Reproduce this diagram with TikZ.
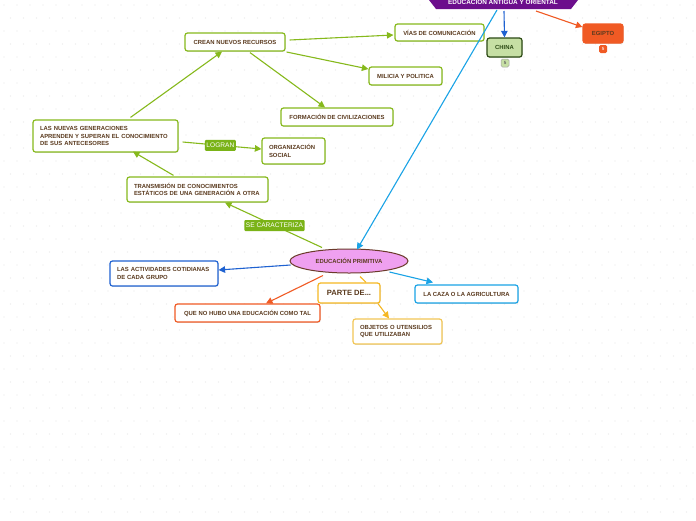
\documentclass[tikz,border=0pt]{standalone}
\usepackage{fontspec}
\setmainfont{Liberation Sans}
\usetikzlibrary{arrows.meta,shapes.geometric,shadows,calc}
\definecolor{gline}{HTML}{86B91C}
\definecolor{gfill}{HTML}{7AB317}
\definecolor{txt}{HTML}{5A3A1E}
\definecolor{bblue}{HTML}{1F62D1}
\definecolor{lblue}{HTML}{1AA3E6}
\definecolor{ored}{HTML}{F05A24}
\definecolor{yel}{HTML}{F5B722}
\definecolor{yel2}{HTML}{F2C655}
\definecolor{purp}{HTML}{6C0E8C}
\definecolor{violet2}{HTML}{EFA0F0}
\definecolor{brownb}{HTML}{6B3A2A}
\definecolor{chinaf}{HTML}{C6DFA4}
\definecolor{chinab}{HTML}{2C4A14}
\tikzset{
  every node/.style={font=\fontsize{5.9}{7.2}\selectfont\bfseries, text=txt},
  box/.style={draw=gline, line width=1.2pt, rounded corners=2.5pt, fill=white, inner sep=0pt, align=left,
     drop shadow={shadow xshift=0.6pt, shadow yshift=-0.9pt, opacity=0.25}},
  conn/.style={draw=gline, line width=1.1pt, -{Triangle[length=6.5pt,width=6.5pt]}},
  lab/.style={fill=gfill, text=white, font=\fontsize{6.6}{7}\selectfont, inner sep=1.5pt, minimum height=11pt, rounded corners=1pt},
  badge/.style={rounded corners=1.5pt, minimum width=8pt, minimum height=8pt, inner sep=0pt, font=\fontsize{4.5}{5}\selectfont\bfseries}
}
\begin{document}
\begin{tikzpicture}[x=1pt,y=-1pt]
\useasboundingbox (0,0) rectangle (696,520);
\fill[white] (0,0) rectangle (696,520);
\foreach \i in {0,...,53} {\foreach \j in {0,...,40} {
  \pgfmathsetmacro{\xx}{\i*13+mod(\j,2)*6.5+4}
  \fill[black!9] (\xx,\j*13+5) circle (0.55);
}}
% top purple shape
\fill[purp] (436,-12) -- (571,-12) -- (578,0) -- (571,9) -- (436,9) -- (429,0) -- cycle;
\node[text=white, font=\fontsize{6.4}{7}\selectfont\bfseries] (antigua) at (503,1.5) {EDUCACIÓN ANTIGUA Y ORIENTAL};
\coordinate (antA) at (504,11);
\coordinate (antB) at (536,11);
\coordinate (antC) at (497,10);

\node[box, draw=chinab, fill=chinaf, minimum width=35pt, minimum height=19pt, align=center, text=chinab] (china) at (504.5,47.5) {CHINA};
\node[badge, fill=chinaf, draw=gray!70, line width=0.5pt, text=gray!80!black] (chinab) at (505,63) {5};
\node[box, draw=ored, fill=ored, minimum width=40pt, minimum height=19pt, align=center] (egipto) at (603,33.5) {EGIPTO};
\node[badge, fill=ored, text=white!80!ored] (egiptob) at (603,49) {5};

\node[box, minimum width=89pt, minimum height=17pt, align=center] (vias) at (439.5,32.5) {VÍAS DE COMUNICACIÓN};
\node[box, minimum width=100pt, minimum height=18pt, align=center] (crean) at (235,42) {CREAN NUEVOS RECURSOS};
\node[box, minimum width=73pt, minimum height=18pt, align=center] (milicia) at (405.5,76) {MILICIA Y POLITICA};
\node[box, minimum width=112pt, minimum height=18pt, align=center] (formacion) at (337,117) {FORMACIÓN DE CIVILIZACIONES};
\node[box, minimum width=145pt, minimum height=32pt, text width=131pt] (nuevas) at (105.5,136)
  {LAS NUEVAS GENERACIONES\\APRENDEN Y SUPERAN EL CONOCIMIENTO\\DE SUS ANTECESORES};
\node[box, minimum width=63pt, minimum height=26pt, text width=49pt] (org) at (293.5,151) {ORGANIZACIÓN\\SOCIAL};
\node[box, minimum width=141pt, minimum height=25pt, text width=127pt] (trans) at (197.5,189.5)
  {TRANSMISIÓN DE CONOCIMIENTOS\\ESTÁTICOS DE UNA GENERACIÓN A OTRA};
\node[ellipse, draw=brownb, fill=violet2, line width=1pt, minimum width=118pt, minimum height=24pt, inner sep=0pt] (prim) at (349,261) {EDUCACIÓN PRIMITIVA};
\node[box, draw=bblue, minimum width=108pt, minimum height=25pt, text width=94pt] (activ) at (164,273.5)
  {LAS ACTIVIDADES COTIDIANAS\\DE CADA GRUPO};
\node[box, draw=ored, minimum width=145pt, minimum height=18pt, align=center] (nohubo) at (247.5,313) {QUE NO HUBO UNA EDUCACIÓN COMO TAL};
\node[box, draw=yel, minimum width=62pt, minimum height=20pt, align=center, font=\fontsize{7.6}{8}\selectfont\bfseries] (parte) at (349,293) {PARTE DE...};
\node[box, draw=yel2, minimum width=89pt, minimum height=25pt, text width=75pt] (objetos) at (397.5,331.5)
  {OBJETOS O UTENSILIOS\\QUE UTILIZABAN};
\node[box, draw=lblue, minimum width=103pt, minimum height=18pt, align=center] (caza) at (466.5,294) {LA CAZA O LA AGRICULTURA};

% connectors top
\draw[conn, draw=bblue] (antA) -- (china.north);
\draw[conn, draw=ored] (antB) -- ($(egipto.west)+(0,-6.5)$);
\draw[conn, draw=lblue] (antC) -- ($(prim.north)+(8,1)$);
% green connectors
\draw[conn] ($(nuevas.north)+(25,-2)$) -- ($(crean.south)+(-13,0)$);
\draw[conn] ($(crean.east)+(4,-2)$) -- ($(vias.west)+(-1,2.5)$);
\draw[conn] ($(crean.east)+(1,10)$) -- ($(milicia.west)+(0,-7)$);
\draw[conn] ($(crean.south)+(15,1)$) -- ($(formacion.north)+(-12,0)$);
\draw[conn] ($(nuevas.east)+(4,6)$) -- node[lab, pos=0.48] (logran) {LOGRAN} ($(org.west)+(0,-2)$);
\draw[conn] ($(trans.north)+(-24,-1)$) -- ($(nuevas.south)+(27.5,-1)$);
\draw[conn] ($(prim.north)+(-27,-1)$) -- node[lab, pos=0.49] (secar) {SE CARACTERIZA} ($(trans.south)+(27.5,0)$);
% from primitive
\draw[conn, draw=bblue] ($(prim.west)+(1,4)$) -- ($(activ.east)+(0,-3.5)$);
\draw[conn, draw=ored] ($(prim.south)+(-26,2)$) -- ($(nohubo.north)+(18.5,0)$);
\draw[line width=1.1pt, draw=yel] ($(prim.south)+(11,3)$) -- ($(parte.north)+(17,0)$);
\draw[conn, draw=yel] ($(parte.south)+(29,0)$) -- ($(objetos.north)+(-8.5,0)$);
\draw[conn, draw=lblue] ($(prim.east)+(-19,11)$) -- ($(caza.north)+(-33.5,-2)$);
\end{tikzpicture}
\end{document}
